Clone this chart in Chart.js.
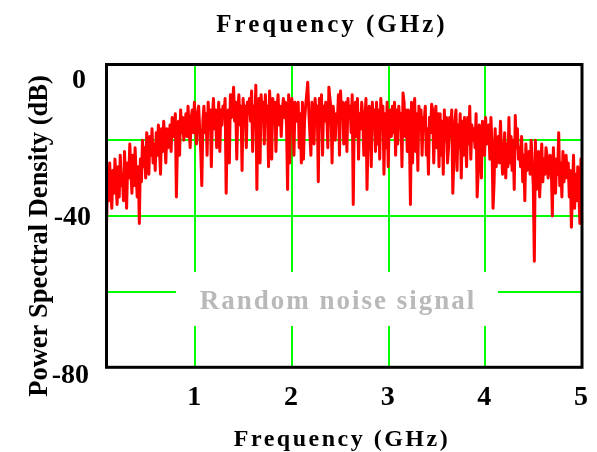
<!DOCTYPE html>
<html>
<head>
<meta charset="utf-8">
<script src="https://cdn.jsdelivr.net/npm/chart.js@4"></script>
<style>
  html, body { margin: 0; padding: 0; background: #fff; }
  #wrap { width: 597px; height: 452px; }
</style>
</head>
<body>
<div id="wrap"><canvas id="c" width="597" height="452"></canvas></div>
<script>
// ---- data ----
const freqMin = 0.082;   // GHz, first sample
const freqMax = 5.0;     // GHz, last sample
const psd = [
  -43, -30, -36, -26, -33, -38, -28, -34, -25, -31, -37, -27, -35, -24, -32,
  -29, -36, -23, -31, -38, -26, -30, -21, -28, -34, -24, -32, -22, -29, -35,
  -27, -42, -25, -31, -20, -27, -22, -30, -18, -25, -29, -19, -24, -17, -26,
  -21, -28, -18, -24, -16, -22, -29, -17, -23, -15, -20, -26, -17, -22, -19,
  -16, -23, -14, -19, -17, -13, -35, -21, -15, -24, -12, -18, -14, -20, -16,
  -13, -19, -11, -17, -22, -14, -12, -18, -10, -16, -21, -13, -11, -17, -23,
  -32, -15, -11, -18, -13, -24, -10, -16, -12, -27, -14, -9, -17, -12, -22,
  -14, -10, -23, -12, -16, -11, -13, -9, -34, -17, -12, -26, -8, -14, -11,
  -6, -15, -10, -25, -12, -8, -16, -11, -28, -9, -14, -11, -22, -10, -13,
  -9, -15, -7, -23, -11, -16, -5.5, -33, -12, -9, -26, -8, -13, -10, -21,
  -8, -14, -11, -27, -7, -13, -25, -9, -15, -10, -23, -12, -8, -16, -11,
  -19, -12, -9, -14, -10, -16, -33, -8, -26, -11, -9, -13, -24, -10, -15,
  -12, -10, -22, -13, -26, -10, -25, -15, -11, -8, -4.7, -12, -18, -24, -10,
  -12, -21, -9, -14, -11, -31, -9, -15, -8, -24, -11, -15, -10, -13, -22,
  -6, -9, -12, -26, -11, -14, -20, -13, -15, -8, -24, -7, -14, -10, -21,
  -12, -10, -23, -9, -14, -11, -18, -8, -37, -12, -10, -19, -9, -25, -13,
  -17, -10, -14, -24, -15, -9, -33, -19, -11, -14, -27, -10, -16, -12, -23,
  -10, -21, -12, -25, -9, -14, -11, -29, -13, -22, -10, -27, -15, -12, -19,
  -11, -18, -10, -24, -12, -21, -11, -16, -13, -27, -7.5, -10, -19, -12, -23,
  -12, -18, -37, -10, -26, -14, -9, -23, -13, -28, -11, -16, -12, -24, -14,
  -15, -11, -24, -17, -29, -14, -18, -10.5, -12, -26, -16, -11, -22, -13, -27,
  -13, -24, -15, -29, -12, -20, -14, -26, -22, -14, -19, -12, -34, -25, -15,
  -12, -28, -16, -22, -13, -30, -15, -24, -14, -19, -27, -14, -21, -11, -25,
  -16, -20, -17, -22, -13, -35, -28, -16, -20, -30, -15, -19, -24, -14, -21,
  -19, -16, -25, -14, -21, -38, -31, -17, -27, -22, -19, -26, -15, -23, -29,
  -24, -18, -30, -21, -27, -14, -26, -19, -28, -20, -33, -13.5, -22, -17, -25,
  -22, -27, -19, -31, -24, -36, -21, -28, -25, -23, -29, -20, -26, -32, -52,
  -20, -33, -26, -23, -35, -28, -21, -31, -25, -29, -22, -24, -30, -27, -24,
  -27, -40, -22, -30, -34, -25, -29, -18, -32, -26, -35, -23, -31, -28, -24,
  -30, -26, -35, -28, -43, -33, -24, -38, -29, -36, -27, -33, -42, -25, -30
];
const xTicks = [1, 2, 3, 4, 5];
const xTickLabels = ['1', '2', '3', '4', '5'];
const yTicks = [-80, -60, -40, -20, 0];
const yLabelTicks = [0, -40, -80];
const yLabelTexts = ['0', '-40', '-80'];
const titleText = 'Frequency (GHz)';
const xTitleText = 'Frequency (GHz)';
const yTitleText = 'Power Spectral Density (dB)';
const noteText = 'Random noise signal';

// sampling grid of the spectrum
const points = psd.map((v, i) => ({
  x: freqMin + i * (freqMax - freqMin) / (psd.length - 1),
  y: v
}));

// ---- styling ----
const SERIF = '"Liberation Serif", "Times New Roman", serif';
const yLabelBaseOffset = [23.5, 9.5, 15.7];
const yLabelRight = [86, 91, 89];

const deco = {
  id: 'deco',
  beforeDatasetsDraw(chart) {
    const ctx = chart.ctx;
    ctx.save();
    ctx.fillStyle = '#ffffff';
    ctx.fillRect(176, 272, 322, 54);
    ctx.font = 'bold 27px ' + SERIF;
    ctx.letterSpacing = '2px';
    ctx.fillStyle = '#b9b9b9';
    ctx.textAlign = 'center';
    ctx.textBaseline = 'alphabetic';
    ctx.fillText(noteText, 338, 309);
    ctx.restore();
  },
  afterDatasetsDraw(chart) {
    const ctx = chart.ctx;
    const a = chart.chartArea;
    const xs = chart.scales.x, ys = chart.scales.y;
    ctx.save();
    ctx.strokeStyle = '#000';
    ctx.lineWidth = 3;
    ctx.strokeRect(a.left, a.top, a.right - a.left, a.bottom - a.top);

    ctx.fillStyle = '#000';
    ctx.textBaseline = 'alphabetic';
    ctx.font = 'bold 28px ' + SERIF;
    ctx.textAlign = 'center';
    xTicks.forEach((v, i) => {
      ctx.fillText(xTickLabels[i], xs.getPixelForValue(v) - 1, 405);
    });
    ctx.textAlign = 'right';
    yLabelTicks.forEach((v, i) => {
      ctx.fillText(yLabelTexts[i], yLabelRight[i], ys.getPixelForValue(v) + yLabelBaseOffset[i]);
    });
    ctx.textAlign = 'center';
    ctx.font = 'bold 25px ' + SERIF;
    ctx.letterSpacing = '3px';
    ctx.fillText(titleText, 332, 32);
    ctx.font = 'bold 24px ' + SERIF;
    ctx.letterSpacing = '2.5px';
    ctx.fillText(xTitleText, 342, 446);
    ctx.letterSpacing = '0px';
    ctx.translate(47, 236);
    ctx.rotate(-Math.PI / 2);
    ctx.font = 'bold 26.5px ' + SERIF;
    ctx.fillText(yTitleText, 0, 0);
    ctx.restore();
  }
};

new Chart(document.getElementById('c'), {
  type: 'line',
  data: {
    datasets: [{
      data: points,
      borderColor: '#ff0000',
      borderWidth: 3,
      borderJoinStyle: 'round',
      pointRadius: 0,
      tension: 0,
      fill: false
    }]
  },
  options: {
    responsive: false,
    animation: false,
    devicePixelRatio: 1,
    layout: { padding: { top: 64.5, right: 15, bottom: 0, left: 0 } },
    plugins: { legend: { display: false }, tooltip: { enabled: false }, title: { display: false } },
    scales: {
      x: {
        type: 'linear',
        min: freqMin,
        max: freqMax,
        afterBuildTicks(s) { s.ticks = xTicks.map(v => ({ value: v })); },
        afterFit(s) { s.height = 84.7; },
        ticks: { display: false },
        grid: { color: '#00ff00', lineWidth: 2, drawTicks: false },
        border: { display: false }
      },
      y: {
        type: 'linear',
        min: -80,
        max: 0,
        afterBuildTicks(s) { s.ticks = yTicks.map(v => ({ value: v })); },
        afterFit(s) { s.width = 106.5; },
        ticks: { display: false },
        grid: { color: '#00ff00', lineWidth: 2, drawTicks: false },
        border: { display: false }
      }
    }
  },
  plugins: [deco]
});
</script>
</body>
</html>
